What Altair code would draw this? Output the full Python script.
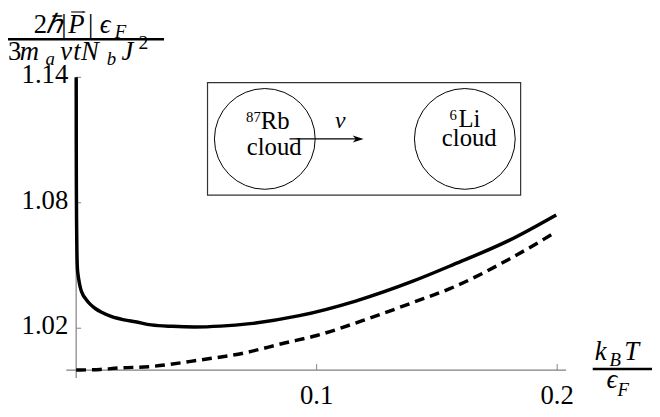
import altair as alt
import pandas as pd

# ---------------- data ----------------
T_solid = [0.00002, 0.00005, 0.0001, 0.0002, 0.0003, 0.0005, 0.0008, 0.0012, 0.0019, 0.0028,
           0.004, 0.0058, 0.0081, 0.0108, 0.0148, 0.020, 0.0246, 0.0312, 0.04, 0.0493,
           0.06, 0.0723, 0.0928, 0.1162, 0.14, 0.157, 0.18, 0.1996]
P_solid = [1.140, 1.105, 1.085, 1.068, 1.058, 1.049, 1.0455, 1.0425, 1.0387, 1.0360,
           1.0340, 1.0315, 1.0293, 1.0275, 1.0255, 1.0240, 1.0231, 1.0216, 1.0209, 1.0206,
           1.0210, 1.0222, 1.0260, 1.0330, 1.0425, 1.0505, 1.0620, 1.0742]
T_dashed = [0.0, 0.01, 0.0177, 0.03, 0.052, 0.07, 0.0862, 0.1, 0.119, 0.14, 0.157, 0.18, 0.1996]
P_dashed = [1.0, 1.0003, 1.001, 1.0016, 1.0049, 1.0082, 1.0128, 1.0165, 1.0236, 1.0323,
            1.0397, 1.0530, 1.0661]
x_ticks = [0.1, 0.2]
x_tick_labels = ["0.1", "0.2"]
y_ticks = [1.02, 1.08, 1.14]
y_tick_labels = ["1.02", "1.08", "1.14"]

# ---------------- layout ----------------
W, H = 652, 409
X0_PX, PX_PER_X = 69, 2435.0
Y1_PX, PX_PER_Y = 364, 2117.0
xs = alt.Scale(domain=[-X0_PX / PX_PER_X, (W - X0_PX) / PX_PER_X], nice=False, zero=False)
ys = alt.Scale(domain=[1 - (H - Y1_PX) / PX_PER_Y, 1 + Y1_PX / PX_PER_Y], nice=False, zero=False)
SERIF = "Liberation Serif"
AX = "#808080"
HEAD = "M0,0 L-1,-0.32 L-0.72,0 L-1,0.32 Z"

one = alt.Data(values=[{"a": 1}])
df_solid = pd.DataFrame({"T": T_solid, "P": P_solid})
df_dashed = pd.DataFrame({"T": T_dashed, "P": P_dashed})
df_xt = pd.DataFrame({"v": x_ticks, "lab": x_tick_labels})
df_yt = pd.DataFrame({"v": y_ticks, "lab": y_tick_labels})


def X(f):
    return alt.X(f, scale=xs, axis=None)


def Y(f):
    return alt.Y(f, scale=ys, axis=None)


def txt(s, x, y, size=27, style="italic", align="left"):
    return alt.Chart(one).mark_text(
        font=SERIF, fontSize=size, fontStyle=style, align=align,
        baseline="alphabetic", color="black"
    ).encode(x=alt.value(x), y=alt.value(y), text=alt.value(s))


def hline(x1, x2, y, w=1.0, color="black"):
    return alt.Chart(one).mark_rule(color=color, strokeWidth=w).encode(
        x=alt.value(x1), x2=alt.value(x2), y=alt.value(y))


def head(x, y, size):
    return alt.Chart(one).mark_point(shape=HEAD, size=size, filled=True, color="black",
                                     opacity=1).encode(x=alt.value(x), y=alt.value(y))


layers = []

# axes
layers.append(alt.Chart(one).mark_rule(color=AX, strokeWidth=1.2).encode(
    x=alt.XDatum(0, scale=xs, axis=None),
    y=alt.YDatum(1.14, scale=ys, axis=None), y2=alt.Y2Datum(0.9962)))
layers.append(alt.Chart(one).mark_rule(color=AX, strokeWidth=1.2).encode(
    y=alt.YDatum(1.0, scale=ys, axis=None),
    x=alt.XDatum(-0.0041, scale=xs, axis=None), x2=alt.X2Datum(0.2037)))
# ticks
layers.append(alt.Chart(df_yt).mark_rule(color=AX, strokeWidth=1).encode(
    y=Y("v:Q"), x=alt.XDatum(0, scale=xs, axis=None), x2=alt.value(74)))
layers.append(alt.Chart(df_xt).mark_rule(color=AX, strokeWidth=1).encode(
    x=X("v:Q"), y=alt.YDatum(1.0, scale=ys, axis=None), y2=alt.value(358)))
# tick labels
layers.append(alt.Chart(df_yt).mark_text(font=SERIF, fontSize=27, align="right",
                                         baseline="middle", dy=-2, color="black").encode(
    y=Y("v:Q"), x=alt.value(61), text="lab:N"))
layers.append(alt.Chart(df_xt).mark_text(font=SERIF, fontSize=27, align="center",
                                         baseline="top", color="black").encode(
    x=X("v:Q"), y=alt.value(377), text="lab:N"))

# curves
layers.append(alt.Chart(df_dashed).mark_line(color="black", strokeWidth=3.5, strokeDash=[10, 6],
                                             interpolate="monotone").encode(
    x=X("T:Q"), y=Y("P:Q")))
layers.append(alt.Chart(df_solid).mark_line(color="black", strokeWidth=3.5,
                                            interpolate="monotone").encode(
    x=X("T:Q"), y=Y("P:Q")))

# y-axis title (fraction)
layers += [
    txt("2", 26, 23, style="normal"),
    txt("ℏ", 38, 23),
    txt("|", 54, 23, style="normal"),
    txt("P", 61, 23),
    hline(64, 76, 1.5, w=1.1),
    head(79, 1.5, 64),
    txt("|", 81, 23, style="normal"),
    txt("ϵ", 93, 23),
    txt("F", 108, 28, size=19),
    hline(0, 158, 29, w=2.5),
    txt("3", 0, 50, style="normal"),
    txt("m", 12, 50),
    txt("a", 38, 55, size=19),
    txt("v", 53, 50),
    txt("t", 66, 50),
    txt("N", 74, 50),
    txt("b", 100, 55, size=19),
    txt("J", 115, 50),
    txt("2", 132, 39, size=20, style="normal"),
]
# x-axis title (fraction)
layers += [
    txt("k", 594, 354),
    txt("B", 609, 360, size=19),
    txt("T", 624, 354),
    hline(592, 652, 363, w=2.5),
    txt("ϵ", 606, 382),
    txt("F", 617, 390, size=19),
]

# inset
layers.append(alt.Chart(one).mark_rect(fill="white", stroke="#333333", strokeWidth=1.2).encode(
    x=alt.value(202), x2=alt.value(519), y=alt.value(73), y2=alt.value(187)))
for cx in (260, 462.5):
    layers.append(alt.Chart(one).mark_point(shape="circle", size=10404, filled=False,
                                            stroke="black", strokeWidth=1, opacity=1).encode(
        x=alt.value(cx), y=alt.value(130)))
layers.append(hline(285, 356, 130, w=1.2))
layers.append(head(360, 130, 484))
layers += [
    txt("v", 331, 119, size=24),
    txt("87", 241, 113, size=15, style="normal"),
    txt("Rb", 256, 120, size=25, style="normal"),
    txt("cloud", 269.5, 146, size=25, style="normal", align="center"),
    txt("6", 447, 111, size=15, style="normal"),
    txt("Li", 456, 118, size=25, style="normal"),
    txt("cloud", 467, 137, size=25, style="normal", align="center"),
]

chart = alt.layer(*layers).properties(
    width=W, height=H, autosize=alt.AutoSizeParams(type="none"), padding=0,
    background="white"
).configure_view(stroke=None)

chart.save("out.html", embed_options={"renderer": "svg", "actions": False})
